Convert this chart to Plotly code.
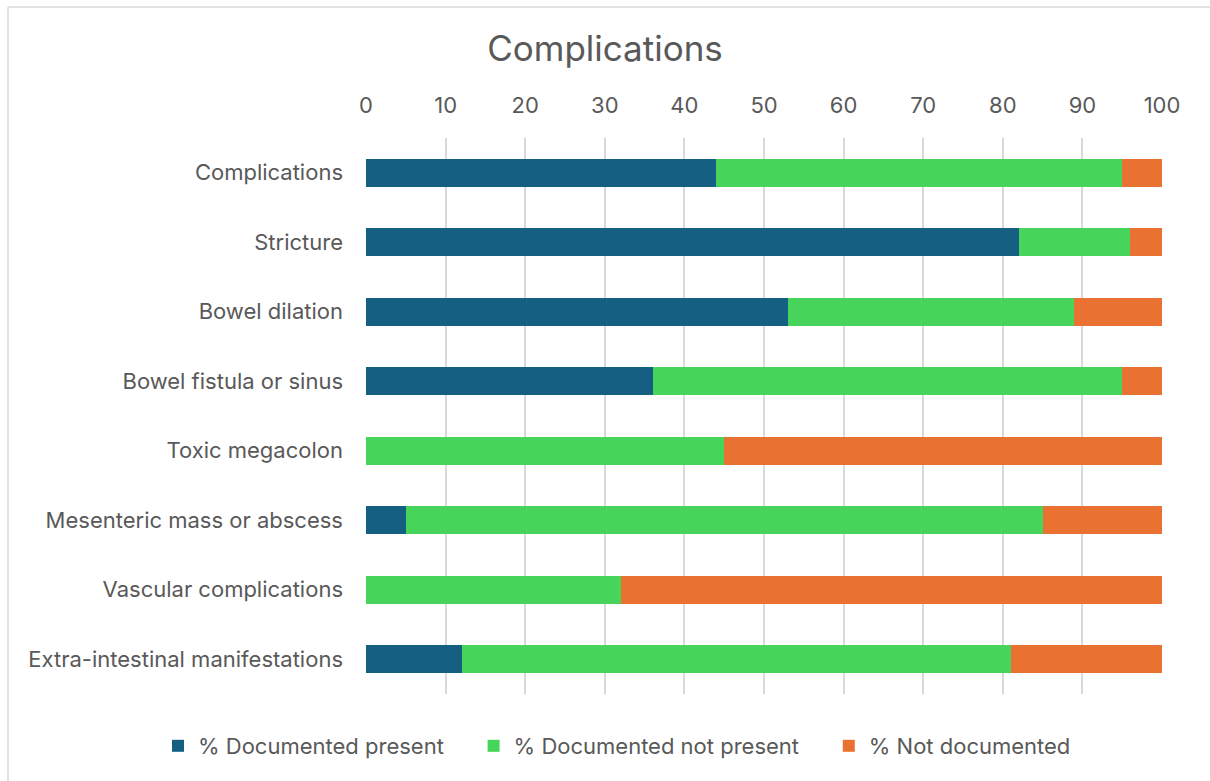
import plotly.graph_objects as go

categories = [
    "Complications",
    "Stricture",
    "Bowel dilation",
    "Bowel fistula or sinus",
    "Toxic megacolon",
    "Mesenteric mass or abscess",
    "Vascular complications",
    "Extra-intestinal manifestations",
]
documented_present = [44, 82, 53, 36, 0, 5, 0, 12]
documented_not_present = [51, 14, 36, 59, 45, 80, 32, 69]
not_documented = [5, 4, 11, 5, 55, 15, 68, 19]
x_ticks = [0, 10, 20, 30, 40, 50, 60, 70, 80, 90, 100]

series = [
    ("% Documented present", documented_present, "#156082"),
    ("% Documented not present", documented_not_present, "#47D45A"),
    ("% Not documented", not_documented, "#E97132"),
]

FONT = "Inter, Open Sans, sans-serif"
TEXT = "#595959"
FS = 22
PAD = "\u00a0" * 4  # extra room between legend entries

fig = go.Figure()
for i, (name, vals, color) in enumerate(series):
    label = name + (PAD if i < len(series) - 1 else "")
    fig.add_trace(go.Bar(
        y=categories, x=vals, name=label, orientation="h",
        marker=dict(color=color, line=dict(width=0)),
    ))

W, H = 1210, 781
ml, mr, mt, mb = 366, 48, 138, 87
pw, ph = W - ml - mr, H - mt - mb

def px_x(p):
    return (p - ml) / pw

def px_y(p):
    return 1 - (p - mt) / ph

fig.update_layout(
    width=W, height=H,
    margin=dict(l=ml, r=mr, t=mt, b=mb),
    barmode="stack", bargap=0.6,
    paper_bgcolor="white", plot_bgcolor="white",
    font=dict(family=FONT, color=TEXT, size=FS),
    title=dict(text="Complications", x=0.5, xanchor="center",
               y=1 - 49 / H, yanchor="middle",
               font=dict(size=35, color=TEXT, family=FONT)),
    xaxis=dict(side="top", range=[0, 100], tickvals=x_ticks,
               showgrid=True, gridcolor="#D9D9D9", gridwidth=1.5,
               zeroline=False, showline=False, ticks="",
               tickfont=dict(size=FS, color=TEXT), ticklabelstandoff=20),
    yaxis=dict(autorange="reversed", showgrid=False, showline=False,
               ticks="", ticklabelstandoff=22,
               tickfont=dict(size=FS, color=TEXT)),
    legend=dict(orientation="h", x=px_x(158), xanchor="left",
                y=px_y(746), yanchor="middle",
                font=dict(size=FS, color=TEXT), itemwidth=30,
                traceorder="normal"),
    shapes=[
        dict(type="line", xref="paper", yref="paper",
             x0=px_x(8), x1=px_x(1215), y0=px_y(7), y1=px_y(7),
             line=dict(color="#D9D9D9", width=1.5)),
        dict(type="line", xref="paper", yref="paper",
             x0=px_x(8), x1=px_x(8), y0=px_y(7), y1=px_y(790),
             line=dict(color="#D9D9D9", width=1.5)),
    ],
)

fig.write_html("out.html")
